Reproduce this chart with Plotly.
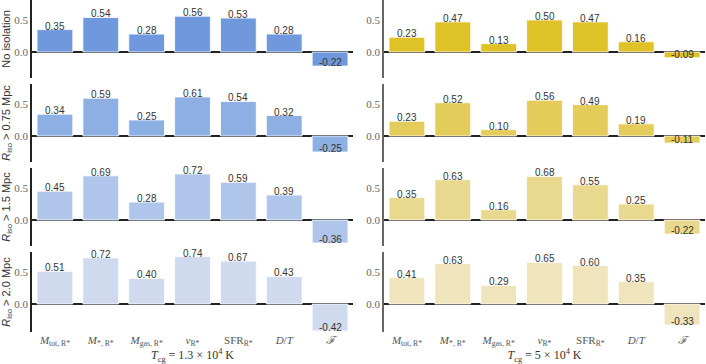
import plotly.graph_objects as go
from plotly.subplots import make_subplots

categories = ["<i>M</i><sub>tot, R*</sub>", "<i>M</i><sub>*, R*</sub>", "<i>M</i><sub>gas, R*</sub>",
              "<i>v</i><sub>R*</sub>", "SFR<sub>R*</sub>", "<i>D</i>/<i>T</i>", "<i>ℱ</i>"]

row_titles = ["No isolation",
              "<i>R</i><sub>iso</sub> > 0.75 Mpc",
              "<i>R</i><sub>iso</sub> > 1.5 Mpc",
              "<i>R</i><sub>iso</sub> > 2.0 Mpc"]
col_titles = ["<i>T</i><sub>cg</sub> = 1.3 × 10<sup>4</sup> K",
              "<i>T</i><sub>cg</sub> = 5 × 10<sup>4</sup> K"]

# T_cg = 1.3e4 K
cold_none = [0.35, 0.54, 0.28, 0.56, 0.53, 0.28, -0.22]
cold_075 = [0.34, 0.59, 0.25, 0.61, 0.54, 0.32, -0.25]
cold_15 = [0.45, 0.69, 0.28, 0.72, 0.59, 0.39, -0.36]
cold_20 = [0.51, 0.72, 0.40, 0.74, 0.67, 0.43, -0.42]
# T_cg = 5e4 K
warm_none = [0.23, 0.47, 0.13, 0.50, 0.47, 0.16, -0.09]
warm_075 = [0.23, 0.52, 0.10, 0.56, 0.49, 0.19, -0.11]
warm_15 = [0.35, 0.63, 0.16, 0.68, 0.55, 0.25, -0.22]
warm_20 = [0.41, 0.63, 0.29, 0.65, 0.60, 0.35, -0.33]

cold = [cold_none, cold_075, cold_15, cold_20]
warm = [warm_none, warm_075, warm_15, warm_20]

blues = ["#6f99dc", "#8eafe4", "#b0c5ea", "#cfdaee"]
yellows = ["#dfc227", "#e4cc5a", "#e9d98e", "#efe4bc"]

W, H = 706, 364
col_px = [(32, 353), (384, 705)]
row_px = [(0, 78), (84, 162), (168, 246), (252, 332)]
zero_px = [52, 136, 220, 304]
ppu = 64.0

fig = make_subplots(rows=4, cols=2)

for c, (data, cols) in enumerate([(cold, blues), (warm, yellows)]):
    for r in range(4):
        vals = data[r]
        fig.add_trace(go.Bar(x=categories, y=vals, marker_color=cols[r],
                             marker_line_color="white", marker_line_width=0.8,
                             width=0.78, showlegend=False), row=r + 1, col=c + 1)
        # value labels sit with their baseline on the bar end, like ax.text(va="bottom")
        for cat, v in zip(categories, vals):
            fig.add_annotation(x=cat, y=v, text=f"{v:.2f}", showarrow=False,
                               yanchor="bottom", yshift=-4,
                               font=dict(family="Liberation Sans", size=10, color="#333"),
                               row=r + 1, col=c + 1)

        top, bot = row_px[r]
        z = zero_px[r]
        x0, x1 = col_px[c]
        idx = r * 2 + c + 1
        sfx = "" if idx == 1 else str(idx)
        line_col = "#222" if c == 0 else "#666"
        fig.layout["xaxis" + sfx].update(
            domain=[x0 / W, x1 / W], range=[-0.5, 6.5], automargin=False,
            showticklabels=(r == 3), ticks="", showline=False, showgrid=False,
            tickfont=dict(family="Liberation Serif", size=11, color="#555"),
            title=dict(text=col_titles[c] if r == 3 else "", standoff=3,
                       font=dict(family="Liberation Serif", size=12, color="#333")))
        fig.layout["yaxis" + sfx].update(
            domain=[1 - bot / H, 1 - top / H], automargin=False,
            range=[-(bot - z) / ppu, (z - top) / ppu],
            tickvals=[0, 0.5], ticktext=["0.0", "0.5"], ticks="",
            tickfont=dict(family="Liberation Serif", size=11, color="#666"),
            showgrid=False, showline=True, linecolor=line_col, linewidth=1.6,
            zeroline=True, zerolinecolor="#222", zerolinewidth=1.6,
            title=dict(text=row_titles[r] if c == 0 else "", standoff=2,
                       font=dict(family="Liberation Sans", size=11, color="#333")))

fig.update_layout(width=W, height=H, margin=dict(l=0, r=0, t=0, b=0),
                  plot_bgcolor="white", paper_bgcolor="white", bargap=0.2)

# browser default body margin would shift the plot by 8px
fig.write_html("out.html", config={"displayModeBar": False},
               post_script="document.body.style.margin='0';")
